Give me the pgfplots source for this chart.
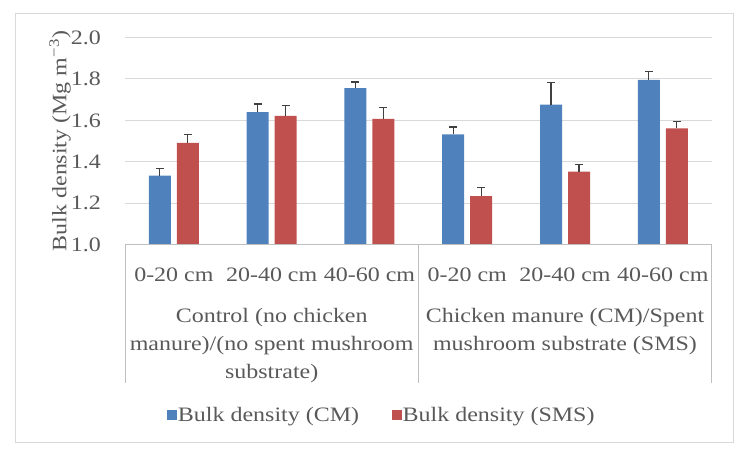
\documentclass[border=0pt]{standalone}
\usepackage{pgfplots}
\pgfplotsset{compat=1.18}
\usepackage{fontspec}
\setmainfont{Liberation Serif}
\newcommand{\sx}[1]{\scalebox{1.17}[1]{#1}}
\definecolor{cmblue}{HTML}{4F81BD}
\definecolor{smsred}{HTML}{C0504D}
\definecolor{txt}{HTML}{595959}
\definecolor{gridc}{HTML}{D9D9D9}
\definecolor{axc}{HTML}{BFBFBF}
\definecolor{errc}{HTML}{404040}

\pgfplotstableread{
x y e
0 1.333 0.036
1 1.640 0.039
2 1.756 0.029
3 1.533 0.035
4 1.676 0.105
5 1.796 0.040
}\cmdata
\pgfplotstableread{
x y e
0 1.491 0.039
1 1.622 0.051
2 1.607 0.056
3 1.234 0.043
4 1.353 0.034
5 1.562 0.032
}\smsdata

\begin{document}
\begin{tikzpicture}[font=\fontsize{20.5bp}{24bp}\selectfont]
\useasboundingbox (0bp,0bp) rectangle (749bp,458bp);
\draw[gridc, line width=1bp] (15bp,15bp) rectangle (733bp,444bp);
\begin{axis}[
  at={(125bp,213.3bp)}, anchor=south west,
  scale only axis, width=586.7bp, height=207.2bp,
  xmin=-0.5, xmax=5.5, ymin=1, ymax=2,
  enlargelimits=false,
  ytick={1,1.2,1.4,1.6,1.8,2},
  yticklabels={\sx{1.0},\sx{1.2},\sx{1.4},\sx{1.6},\sx{1.8},\sx{2.0}},
  xtick={0,1,2,3,4,5},
  xticklabels={\sx{0-20 cm},\sx{20-40 cm},\sx{40-60 cm},\sx{0-20 cm},\sx{20-40 cm},\sx{40-60 cm}},
  yticklabel style={text=txt, anchor=east, inner sep=0pt, xshift=-24bp},
  xticklabel style={text=txt, anchor=base, inner sep=0pt, yshift=-37bp},
  major tick length=0pt,
  axis line style={draw=none},
  ymajorgrids, grid style={gridc, line width=1bp},
  ylabel={\sx{Bulk density (Mg m\textsuperscript{\char"2212 3})}},
  ylabel style={at={(axis description cs:-0.1108,0.5)}, anchor=center, text=txt},
  ybar=6bp, bar width=22bp,
  clip=true,
  legend style={at={(0.4372,-0.822)}, anchor=center, draw=none, fill=none,
    legend columns=2, nodes={inner sep=1bp, text=txt},
    /tikz/every even column/.append style={column sep=32bp}},
  legend image code/.code={\fill[#1, draw=none] (0bp,-4.75bp) rectangle (9.5bp,4.75bp);},
]
\addplot[fill=cmblue, draw=none,
  error bars/.cd, y dir=plus, y explicit,
  error bar style={errc, line width=1.2bp},
  error mark options={errc, line width=1.2bp, rotate=90, mark size=4bp}]
  table[x=x, y=y, y error=e] {\cmdata};
\addlegendentry{\sx{Bulk density (CM)}}
\addplot[fill=smsred, draw=none,
  error bars/.cd, y dir=plus, y explicit,
  error bar style={errc, line width=1.2bp},
  error mark options={errc, line width=1.2bp, rotate=90, mark size=4bp}]
  table[x=x, y=y, y error=e] {\smsdata};
\addlegendentry{\sx{Bulk density (SMS)}}
\end{axis}
\begin{scope}[shift={(125bp,213.3bp)}]
  \draw[axc, line width=1bp] (0bp,0bp) -- (586.7bp,0bp);
  \draw[axc, line width=1bp] (0bp,0bp) -- (0bp,-138bp);
  \draw[axc, line width=1bp] (293.35bp,0bp) -- (293.35bp,-138bp);
  \draw[axc, line width=1bp] (586.7bp,0bp) -- (586.7bp,-138bp);
  \node[text=txt, anchor=north, inner sep=0pt] at (146.7bp,-57.5bp)
    {\sx{\fontsize{20.5bp}{28.2bp}\selectfont\begin{tabular}{@{}c@{}}Control (no chicken\\manure)/(no spent mushroom\\substrate)\end{tabular}}};
  \node[text=txt, anchor=north, inner sep=0pt] at (440bp,-57.5bp)
    {\sx{\fontsize{20.5bp}{28.2bp}\selectfont\begin{tabular}{@{}c@{}}Chicken manure (CM)/Spent\\mushroom substrate (SMS)\end{tabular}}};
\end{scope}
\end{tikzpicture}
\end{document}
